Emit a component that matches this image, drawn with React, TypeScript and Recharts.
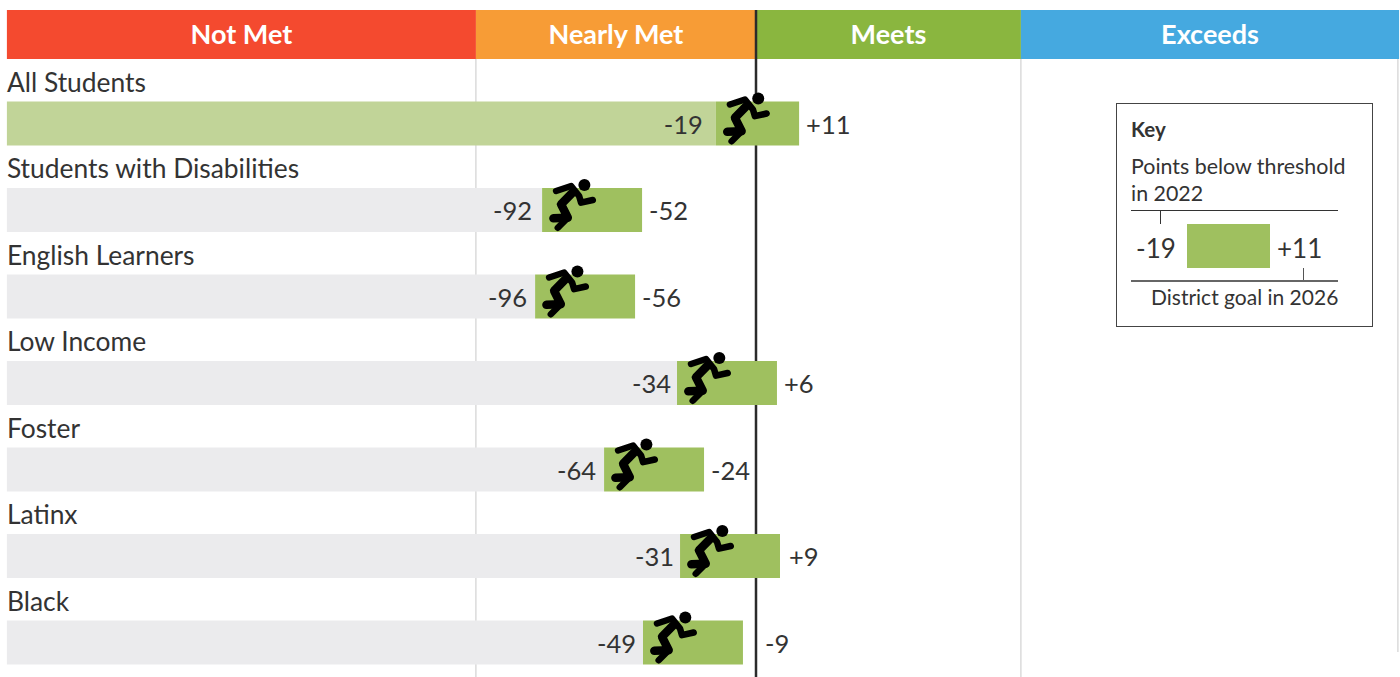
import React from "react";
import { BarChart, Bar, XAxis, YAxis, Cell, LabelList, ReferenceLine } from "recharts";

const categories = ["", "All Students", "Students with Disabilities", "English Learners", "Low Income", "Foster", "Latinx", "Black"];
// plotted bar edges, on the chart's point scale
const barStarts = [null, -17.2, -91.8, -94.8, -33.9, -65.2, -32.6, -48.5];
const barEnds = [null, 18.5, -48.9, -51.9, 9.0, -22.3, 10.3, -5.6];
// printed labels
const startLabels = ["", "-19", "-92", "-96", "-34", "-64", "-31", "-49"];
const endLabels = ["", "+11", "-52", "-56", "+6", "-24", "+9", "-9"];

const bandNames = ["Not Met", "Nearly Met", "Meets", "Exceeds"];
const bandEdges = [-321.5, -120.2, 0, 113.7, 276];
const bandColors = ["#f44a2f", "#f79c36", "#8ab63f", "#45a9e0"];

const AXIS_MIN = -324.46;
const AXIS_MAX = 276.39;
const FONT = "Lato, 'Open Sans', sans-serif";
const TEXT = "#333333";
const GREEN = "#9fc05f";
// layout: space between each bar and its printed labels
const startGaps = [0, 13, 10, 8, 6, 8, 6, 7];
const endGaps = [0, 7, 7, 7, 7, 7, 9, 22];

const rows = categories.map((category, i) => ({
  category,
  grey: barStarts[i] === null ? null : [bandEdges[0], barStarts[i]],
  green: barStarts[i] === null ? null : [barStarts[i], barEnds[i]],
}));
const headerRow: Record<string, number | string> = { name: "header" };
bandNames.forEach((n, i) => {
  headerRow[n] = bandEdges[i + 1] - bandEdges[i];
});

const RowLabel = (p: any) => {
  if (!p.width) return null;
  return (
    <text x={p.x} y={p.y - 10} fontFamily={FONT} fontSize={26.4} fill={TEXT}>
      {p.value}
    </text>
  );
};

const StartLabel = (p: any) => {
  if (!p.width) return null;
  const i = categories.indexOf(p.value);
  return (
    <text x={p.x + p.width - startGaps[i]} y={p.y + p.height / 2 + 10} textAnchor="end" fontFamily={FONT} fontSize={25.5} fill={TEXT}>
      {startLabels[i]}
    </text>
  );
};

const EndLabel = (p: any) => {
  if (!p.width) return null;
  const i = categories.indexOf(p.value);
  return (
    <text x={p.x + p.width + endGaps[i]} y={p.y + p.height / 2 + 10} fontFamily={FONT} fontSize={25.5} fill={TEXT}>
      {endLabels[i]}
    </text>
  );
};

const Runner = (p: any) => {
  if (!p.width) return null;
  return (
    <g transform={`translate(${p.x},${p.y})`} fill="none" stroke="#000" strokeLinecap="round" strokeLinejoin="round">
      <circle cx={42.3} cy={-3} r={6} fill="#000" stroke="none" />
      <path d="M14 3 L29 -2 L37 8 L39 14.7 L50.7 12" strokeWidth={6.5} />
      <path d="M31 4 L19 16.3 L25.7 29.7 L11.3 30.3" strokeWidth={8.5} />
      <path d="M25.7 29.7 L15.7 39.7" strokeWidth={6.5} />
    </g>
  );
};

const HeaderLabel = (p: any) => (
  <text
    x={p.x + p.width / 2}
    y={p.y + p.height / 2 + 9}
    textAnchor="middle"
    fill="#fff"
    fontFamily={FONT}
    fontSize={27}
    fontWeight={700}
  >
    {p.value}
  </text>
);

const abs = (left: number, top: number, extra: React.CSSProperties = {}): React.CSSProperties => ({
  position: "absolute",
  left,
  top,
  fontFamily: FONT,
  color: TEXT,
  whiteSpace: "nowrap",
  ...extra,
});

const chartProps = {
  width: 1400,
  height: 692,
  data: rows,
  layout: "vertical" as const,
  margin: { top: 0, right: 0, bottom: 0, left: 0 },
  barSize: 44,
  barGap: -44,
  barCategoryGap: 0,
};

export default function App() {
  return (
    <div style={{ position: "absolute", left: 0, top: 0, width: 1400, height: 677, overflow: "hidden", background: "#fff" }}>
      <div style={{ position: "absolute", left: 0, top: -5.75 }}>
        <BarChart {...chartProps}>
          <XAxis type="number" domain={[AXIS_MIN, AXIS_MAX]} hide />
          <YAxis type="category" dataKey="category" hide />
          <Bar dataKey="grey" fill="none" isAnimationActive={false} />
          <ReferenceLine x={bandEdges[1]} stroke="#c8c8c8" strokeWidth={1} />
          <ReferenceLine x={bandEdges[3]} stroke="#c8c8c8" strokeWidth={1} />
          <ReferenceLine x={275.5} stroke="#c8c8c8" strokeWidth={1} />
          <ReferenceLine x={0} stroke="#2b2b2b" strokeWidth={2.5} />
        </BarChart>
      </div>
      <div style={{ position: "absolute", left: 1390, top: 652, width: 10, height: 25, background: "#fff" }} />

      <div style={{ position: "absolute", left: 0, top: -5.75 }}>
        <BarChart {...chartProps}>
          <XAxis type="number" domain={[AXIS_MIN, AXIS_MAX]} hide />
          <YAxis type="category" dataKey="category" hide />
          <Bar dataKey="grey" fill="#ebebed" isAnimationActive={false}>
            {rows.map((_, i) => (
              <Cell key={i} fill={i === 1 ? "#c1d498" : "#ebebed"} />
            ))}
            <LabelList dataKey="category" content={RowLabel} />
            <LabelList dataKey="category" content={StartLabel} />
          </Bar>
          <Bar dataKey="green" fill={GREEN} isAnimationActive={false}>
            <LabelList dataKey="category" content={EndLabel} />
            <LabelList dataKey="category" content={Runner} />
          </Bar>
        </BarChart>
      </div>

      <div style={{ position: "absolute", left: 0, top: 0, width: 1400, height: 59, background: "#fff" }}>
        <div style={{ position: "absolute", left: 0, top: 10 }}>
          <BarChart
            width={1400}
            height={49}
            data={[headerRow]}
            layout="vertical"
            margin={{ top: 0, right: 0, bottom: 0, left: 0 }}
            barCategoryGap={0}
          >
            <XAxis type="number" domain={[AXIS_MIN - bandEdges[0], AXIS_MAX - bandEdges[0]]} hide />
            <YAxis type="category" dataKey="name" hide />
            {bandNames.map((n, i) => (
              <Bar key={n} dataKey={n} stackId="h" fill={bandColors[i]} isAnimationActive={false}>
                <LabelList dataKey={() => n} content={HeaderLabel} />
              </Bar>
            ))}
            <ReferenceLine x={-bandEdges[0]} stroke="#2b2b2b" strokeWidth={2.5} />
          </BarChart>
        </div>
      </div>

      <div style={{ position: "absolute", left: 1116, top: 103, width: 255, height: 222, border: "1.5px solid #444" }} />
      <div style={abs(1131, 117, { fontSize: 20.5, fontWeight: 700, lineHeight: "24px" })}>Key</div>
      <div style={abs(1131, 153, { fontSize: 21.4, lineHeight: "27px" })}>
        Points below threshold
        <br />
        in 2022
      </div>
      <div style={{ position: "absolute", left: 1131, top: 210, width: 207, height: 1, background: "#333" }} />
      <div style={{ position: "absolute", left: 1160, top: 210, width: 1, height: 14, background: "#333" }} />
      <div style={abs(1136, 232, { fontSize: 26, lineHeight: "32px" })}>-19</div>
      <div style={{ position: "absolute", left: 1187, top: 224, width: 83, height: 44, background: GREEN }} />
      <div style={abs(1277, 232, { fontSize: 26, lineHeight: "32px" })}>+11</div>
      <div style={{ position: "absolute", left: 1303, top: 268, width: 1, height: 13, background: "#555" }} />
      <div style={{ position: "absolute", left: 1131, top: 280, width: 207, height: 2, background: "#666" }} />
      <div style={abs(1151, 284, { fontSize: 21, lineHeight: "26px" })}>District goal in 2026</div>
    </div>
  );
}
